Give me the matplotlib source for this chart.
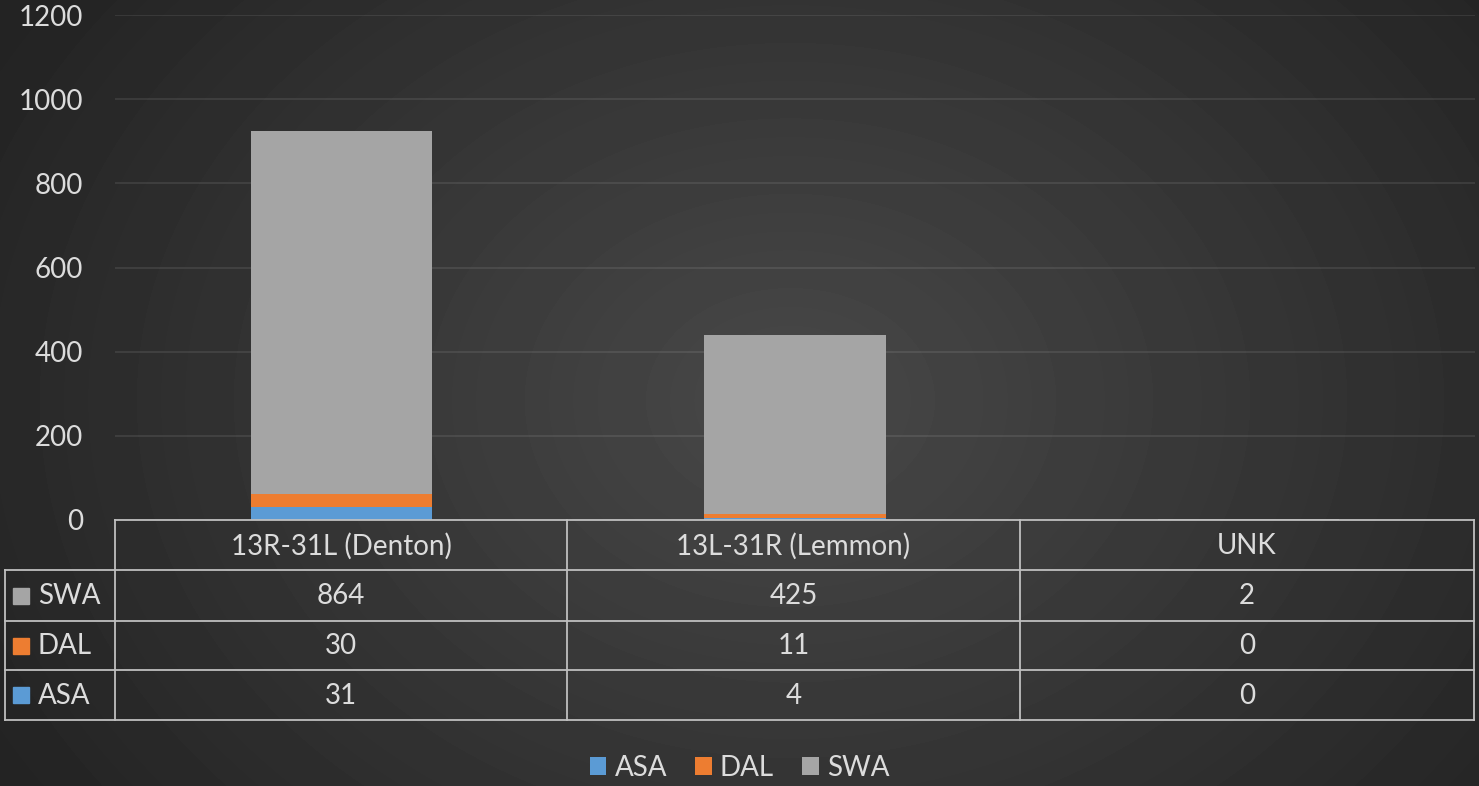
import numpy as np
import matplotlib
matplotlib.use("Agg")
import matplotlib.pyplot as plt
from matplotlib.patches import Rectangle

plt.rcParams['font.family'] = ['Lato', 'DejaVu Sans']

categories = ["13R-31L (Denton)", "13L-31R (Lemmon)", "UNK"]
series = ["ASA", "DAL", "SWA"]
asa = [31, 4, 0]
dal = [30, 11, 0]
swa = [864, 425, 2]
colors = {"ASA": "#5B9BD5", "DAL": "#ED7D31", "SWA": "#A5A5A5"}
yticks = [0, 200, 400, 600, 800, 1000, 1200]

W, H = 1479, 786
fig = plt.figure(figsize=(W / 100, H / 100), dpi=100)
txt = "#DCDCDC"
line_c = "#BFBFBF"
fs = 20

# radial background
bg = fig.add_axes([0, 0, 1, 1], zorder=-10)
yy, xx = np.mgrid[0:H, 0:W]
r = np.sqrt(((xx - 790) / 900.0) ** 2 + ((yy - 400) / 700.0) ** 2)
shade = np.clip(0.285 - 0.145 * r, 0.14, 0.285)
bg.imshow(shade, cmap="gray", vmin=0, vmax=1, aspect="auto",
          extent=[0, W, H, 0])
bg.set_xlim(0, W)
bg.set_ylim(H, 0)
bg.axis("off")

# bar axes
ax = fig.add_axes([115 / W, 266 / H, 1360 / W, (520 - 15) / H])
ax.patch.set_alpha(0)
x = np.arange(len(categories))
bw = 0.40
bottom = np.zeros(len(categories))
handles = []
for name, vals in zip(series, [asa, dal, swa]):
    b = ax.bar(x, vals, bw, bottom=bottom, color=colors[name], label=name,
               zorder=3)
    handles.append(b)
    bottom += np.array(vals)
ax.set_xlim(-0.5, len(categories) - 0.5)
ax.set_ylim(0, 1200)
ax.set_yticks(yticks)
ax.set_yticklabels([str(v) for v in yticks], color=txt, fontsize=fs)
ax.tick_params(axis="y", length=0, pad=23)
ax.set_xticks([])
ax.grid(axis="y", color="white", alpha=0.1, linewidth=1.2, zorder=0)
for s in ax.spines.values():
    s.set_visible(False)

# data table drawn in pixel coords
ov = fig.add_axes([0, 0, 1, 1], zorder=5)
ov.set_xlim(0, W)
ov.set_ylim(H, 0)
ov.axis("off")
cols = [115, 567, 1020, 1474]
rows = [520, 570, 621, 670, 720]
lw = 1.3
ov.plot([cols[0], cols[-1]], [rows[0], rows[0]], color=line_c, lw=lw)
for yv in rows[1:]:
    ov.plot([5, cols[-1]], [yv, yv], color=line_c, lw=lw)
for xv in cols:
    ov.plot([xv, xv], [rows[0], rows[-1]], color=line_c, lw=lw)
ov.plot([5, 5], [rows[1], rows[-1]], color=line_c, lw=lw)

for i, c in enumerate(categories):
    ov.text((cols[i] + cols[i + 1]) / 2, (rows[0] + rows[1]) / 2 + 1, c,
            ha="center", va="center", color=txt, fontsize=fs)

table_rows = [("SWA", swa), ("DAL", dal), ("ASA", asa)]
for j, (name, vals) in enumerate(table_rows):
    yc = (rows[j + 1] + rows[j + 2]) / 2
    ov.add_patch(Rectangle((13, yc - 8), 16, 16, color=colors[name]))
    ov.text(38, yc + 1, name, ha="left", va="center", color=txt, fontsize=fs)
    for i, v in enumerate(vals):
        ov.text((cols[i] + cols[i + 1]) / 2, yc + 1, str(v), ha="center",
                va="center", color=txt, fontsize=fs)

fig.legend(handles=handles, labels=series, loc="center",
           bbox_to_anchor=(0.5, 1 - 768 / H), ncol=3, frameon=False,
           fontsize=fs, labelcolor=txt, handlelength=0.6, handleheight=0.6,
           handletextpad=0.3, columnspacing=1.0)

fig.savefig("out.png", dpi=100)
